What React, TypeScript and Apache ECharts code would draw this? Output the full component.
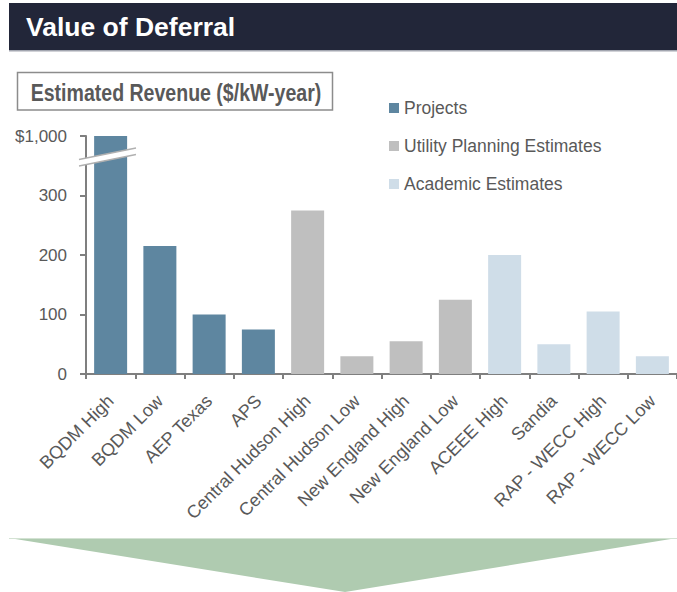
import React, { useEffect, useRef } from "react";
import * as echarts from "echarts";

const categories = [
  "BQDM High",
  "BQDM Low",
  "AEP Texas",
  "APS",
  "Central Hudson High",
  "Central Hudson Low",
  "New England High",
  "New England Low",
  "ACEEE High",
  "Sandia",
  "RAP - WECC High",
  "RAP - WECC Low",
];
const groups = ["Projects", "Projects", "Projects", "Projects", "Utility Planning Estimates", "Utility Planning Estimates", "Utility Planning Estimates", "Utility Planning Estimates", "Academic Estimates", "Academic Estimates", "Academic Estimates", "Academic Estimates"];
const values = [1000, 215, 100, 75, 275, 30, 55, 125, 200, 50, 105, 30];
const seriesNames = ["Projects", "Utility Planning Estimates", "Academic Estimates"];
const seriesColors = ["#5E86A0", "#BFBFBF", "#CFDDE8"];
const yTicks = [0, 100, 200, 300];
const breakValue = 1000; // plotted at the broken top of the axis
const breakAxisPos = 400;

const FONT = "'Liberation Sans', Arial, sans-serif";
const TEXT = "#595959";
const AXIS = "#7F7F7F";

const toAxis = (v: number) => (v > 300 ? breakAxisPos : v);

export default function App() {
  const ref = useRef<HTMLDivElement>(null);
  useEffect(() => {
    if (!ref.current) return;
    const chart = echarts.init(ref.current, null, { renderer: "svg" });
    const series = seriesNames.map((name, si) => ({
      name,
      type: "bar",
      stack: "all",
      barWidth: 33,
      itemStyle: { color: seriesColors[si] },
      data: values.map((v, i) => (groups[i] === name ? toAxis(v) : "-")),
    }));
    chart.setOption({
      animation: false,
      textStyle: { fontFamily: FONT },
      grid: { left: 86, right: 0, top: 136, bottom: 218, containLabel: false },
      legend: {
        orient: "vertical",
        left: 389,
        top: 98,
        padding: 0,
        itemWidth: 10,
        itemHeight: 10,
        itemGap: 18,
        icon: "rect",
        data: seriesNames,
        textStyle: { fontSize: 17.5, color: TEXT, fontFamily: FONT, lineHeight: 20 },
      },
      xAxis: {
        type: "category",
        data: categories,
        axisLine: { lineStyle: { color: AXIS, width: 2 } },
        axisTick: { show: true, length: 5, lineStyle: { color: AXIS, width: 2 } },
        axisLabel: {
          interval: 0,
          rotate: 45,
          fontSize: 18,
          color: TEXT,
          fontFamily: FONT,
          margin: 24,
        },
      },
      yAxis: {
        type: "value",
        min: 0,
        max: breakAxisPos,
        interval: 100,
        splitLine: { show: false },
        axisLine: { show: true, lineStyle: { color: AXIS, width: 2 } },
        axisTick: { show: true, length: 6, lineStyle: { color: AXIS, width: 2 } },
        axisLabel: {
          fontSize: 17,
          color: TEXT,
          fontFamily: FONT,
          margin: 19,
          formatter: (v: number) =>
            v === breakAxisPos ? "$" + breakValue.toLocaleString("en-US") : yTicks.includes(v) ? String(v) : "",
        },
      },
      series,
      graphic: [
        { type: "rect", shape: { x: 9, y: 3, width: 668, height: 47 }, style: { fill: "#222639" } },
        { type: "rect", shape: { x: 9, y: 50, width: 668, height: 1.5 }, style: { fill: "#A3A6B0" } },
        {
          type: "text",
          x: 26,
          y: 27,
          style: {
            text: "Value of Deferral",
            fill: "#FFFFFF",
            font: `bold 26.5px ${FONT}`,
            textVerticalAlign: "middle",
          },
        },
        {
          type: "rect",
          shape: { x: 17.5, y: 72.5, width: 315, height: 37.5 },
          style: { fill: "#FFFFFF", stroke: "#8C8C8C", lineWidth: 1.5 },
        },
        {
          type: "group",
          x: 176,
          y: 93,
          scaleX: 0.85,
          children: [
            {
              type: "text",
              x: 0,
              y: 0,
              style: {
                text: "Estimated Revenue ($/kW-year)",
                fill: TEXT,
                font: `bold 23px ${FONT}`,
                textAlign: "center",
                textVerticalAlign: "middle",
              },
            },
          ],
        },
        {
          type: "polygon",
          z: 100,
          shape: { points: [[79, 159.5], [136, 148], [136, 154.5], [79, 166]] },
          style: { fill: "#FFFFFF" },
        },
        {
          type: "line",
          z: 101,
          shape: { x1: 79, y1: 159.5, x2: 136, y2: 148 },
          style: { stroke: "#B0B0B0", lineWidth: 1.5 },
        },
        {
          type: "line",
          z: 101,
          shape: { x1: 79, y1: 166, x2: 136, y2: 154.5 },
          style: { stroke: "#B0B0B0", lineWidth: 1.5 },
        },
        {
          type: "polygon",
          shape: { points: [[9, 538], [677, 538], [345, 592]] },
          style: { fill: "#AFCBB0" },
        },
        {
          type: "line",
          shape: { x1: 9, y1: 538.5, x2: 677, y2: 538.5 },
          style: { stroke: "#D3E2D3", lineWidth: 1 },
        },
      ],
    });
    return () => chart.dispose();
  }, []);
  return (
    <div
      ref={ref}
      style={{ position: "absolute", left: 0, top: 0, width: 677, height: 592 }}
    />
  );
}
